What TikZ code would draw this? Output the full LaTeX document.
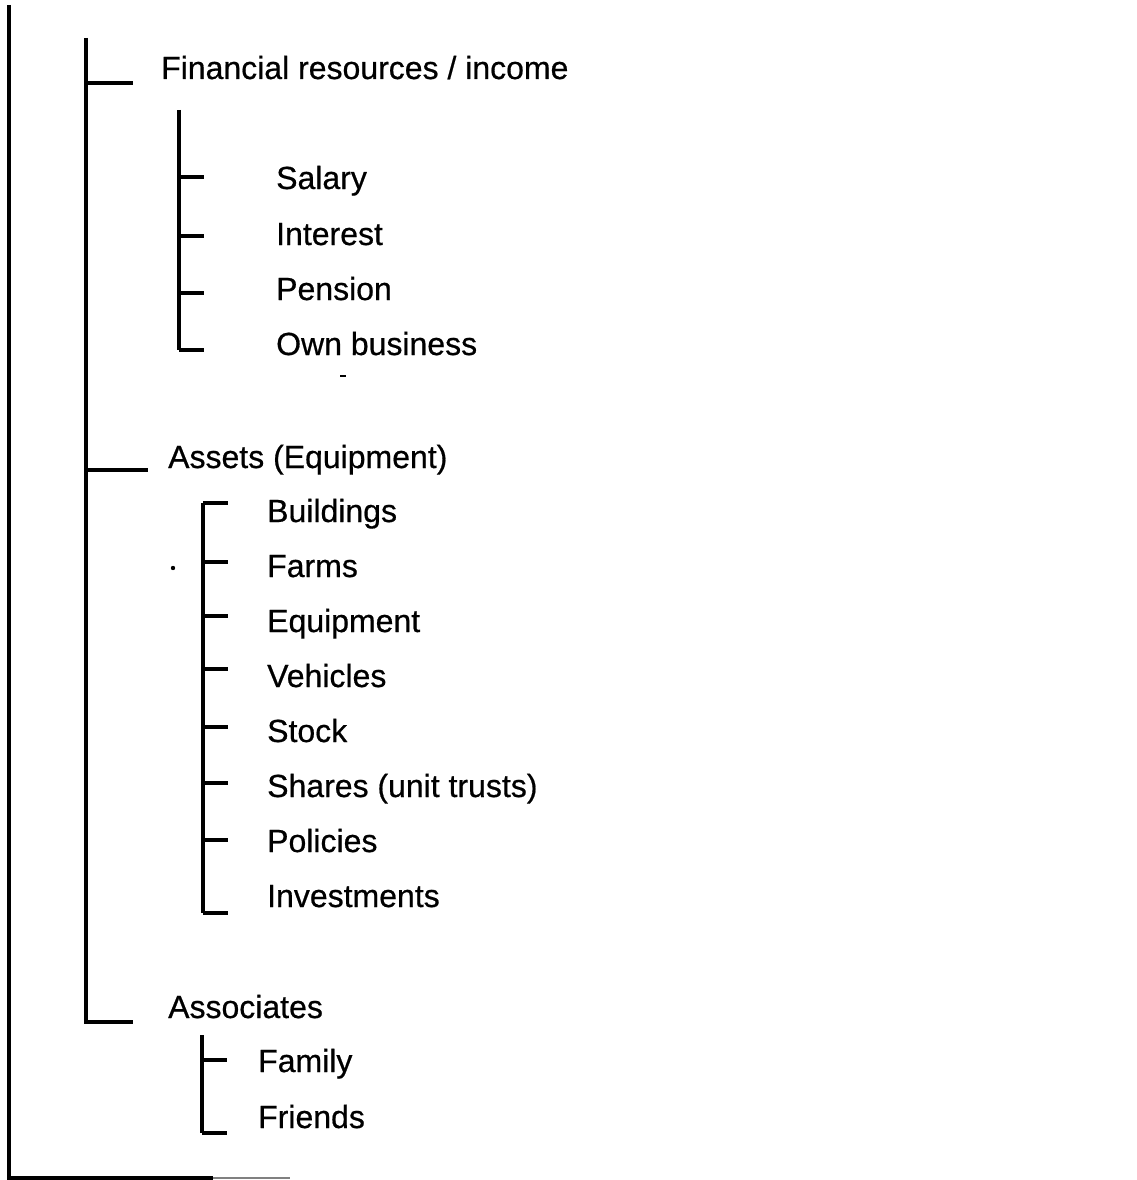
\documentclass[tikz,border=0pt]{standalone}
\usepackage{fontspec}
\setmainfont{Liberation Sans}[FakeBold=0.6]
\begin{document}
\begin{tikzpicture}[x=1pt,y=-1pt,
  rule/.style={line width=3.2pt,line cap=butt,line join=miter},
  item/.style={anchor=base west,inner sep=0pt,font=\fontsize{32}{38}\selectfont}]
\useasboundingbox (0,0) rectangle (1137,1180);

% outer frame: left side and bottom
\coordinate (ftop) at (9,5);
\coordinate (fcorner) at (9,1178);
\coordinate (fend) at (213,1178);
\coordinate (fdot) at (290,1178);
\draw[rule] (ftop) -- (fcorner) -- (fend);
\draw[line width=1.4pt,gray] (fend) -- (fdot);

% main spine with three branches
\coordinate (mtop) at (86,38);
\coordinate (mfin) at (86,83);
\coordinate (mass) at (86,470);
\coordinate (mbot) at (86,1022);
\coordinate (efin) at (133,83);
\coordinate (eass) at (148,470);
\coordinate (eassoc) at (133,1022);
\draw[rule] (mtop) -- (mbot) -- (eassoc);
\draw[rule] (mfin) -- (efin);
\draw[rule] (mass) -- (eass);

\node[item] (fin) at (161,79) {Financial resources / income};
\node[item] (ass) at (168,468) {Assets (Equipment)};
\node[item] (asc) at (168,1018) {Associates};

% income sources
\coordinate (itop) at (179,110);
\coordinate (ibot) at (179,350);
\draw[rule] (itop) -- (ibot);
\foreach \n/\y in {1/177,2/236,3/293,4/350}{
  \coordinate (is\n) at (179,\y);
  \coordinate (ie\n) at (204,\y);
  \draw[rule] (is\n) -- (ie\n);
}
\node[item] (salary) at (276,189) {Salary};
\node[item] (interest) at (276,245) {Interest};
\node[item] (pension) at (276,300) {Pension};
\node[item] (ownbus) at (276,355) {Own business};

% asset items
\coordinate (atop) at (203,503);
\coordinate (abot) at (203,913);
\draw[rule] (atop) -- (abot);
\foreach \n/\y in {1/503,2/562,3/616,4/669,5/727,6/783,7/840,8/913}{
  \coordinate (as\n) at (203,\y);
  \coordinate (ae\n) at (228,\y);
  \draw[rule] (as\n) -- (ae\n);
}
\node[item] (buildings) at (267,522) {Buildings};
\node[item] (farms) at (267,577) {Farms};
\node[item] (equipment) at (267,632) {Equipment};
\node[item] (vehicles) at (267,687) {Vehicles};
\node[item] (stock) at (267,742) {Stock};
\node[item] (shares) at (267,797) {Shares (unit trusts)};
\node[item] (policies) at (267,852) {Policies};
\node[item] (investments) at (267,907) {Investments};

% associates
\coordinate (ctop) at (202,1035);
\coordinate (cbot) at (202,1133);
\draw[rule] (ctop) -- (cbot);
\foreach \n/\y in {1/1060,2/1133}{
  \coordinate (cs\n) at (202,\y);
  \coordinate (ce\n) at (227,\y);
  \draw[rule] (cs\n) -- (ce\n);
}
\node[item] (family) at (258,1072) {Family};
\node[item] (friends) at (258,1128) {Friends};

% small specks
\fill (173,568) circle (2.2);
\draw[line width=1.8pt] (340,376) -- (346,376);
\end{tikzpicture}
\end{document}
